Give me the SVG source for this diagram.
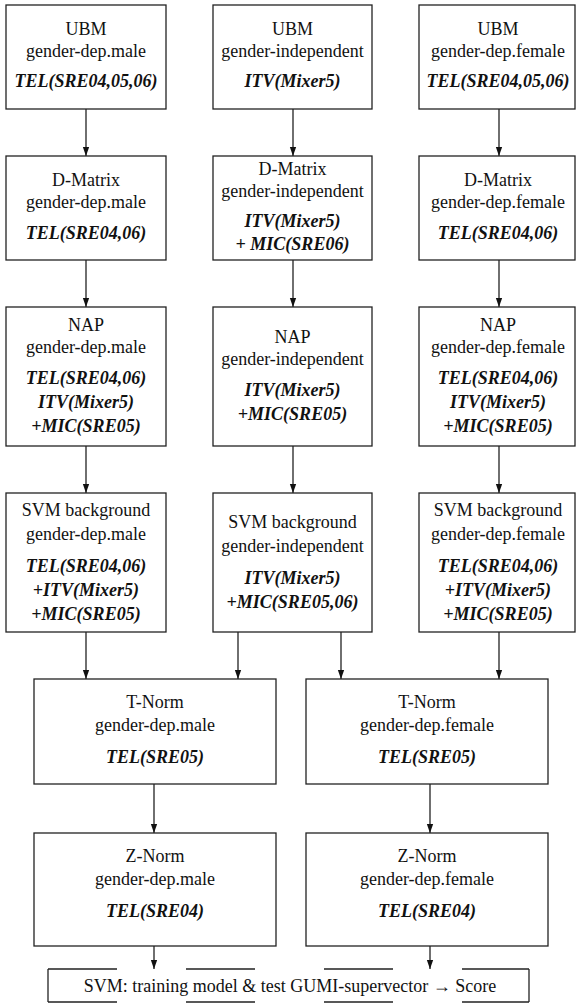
<svg xmlns="http://www.w3.org/2000/svg" width="576" height="1003" viewBox="0 0 576 1003" font-family="'Liberation Serif', 'Times New Roman', serif">
<style>
.box{fill:#fff;stroke:#222;stroke-width:1.3}
text{font-family:"Liberation Serif","Times New Roman",serif;font-size:18px;fill:#111;text-anchor:middle}
.b{font-weight:bold;font-style:italic}
.c{stroke:#222;stroke-width:1.3;fill:none;marker-end:url(#ah)}
</style>
<defs>
<marker id="ah" viewBox="0 0 10 10" refX="10" refY="5" markerWidth="9" markerHeight="9" markerUnits="userSpaceOnUse" orient="auto">
<path d="M0,1.5 L10,5 L0,8.5 z" fill="#111"/>
</marker>
</defs>
<rect width="576" height="1003" fill="#fff"/>
<g id="connectors">
<line class="c" x1="86" y1="109" x2="86" y2="156"/>
<line class="c" x1="293" y1="109" x2="293" y2="156"/>
<line class="c" x1="499" y1="109" x2="499" y2="156"/>
<line class="c" x1="86" y1="260" x2="86" y2="307"/>
<line class="c" x1="293" y1="260" x2="293" y2="307"/>
<line class="c" x1="499" y1="260" x2="499" y2="307"/>
<line class="c" x1="86" y1="446" x2="86" y2="493"/>
<line class="c" x1="293" y1="446" x2="293" y2="493"/>
<line class="c" x1="499" y1="446" x2="499" y2="493"/>
<line class="c" x1="86" y1="632" x2="86" y2="679"/>
<line class="c" x1="238" y1="632" x2="238" y2="679"/>
<line class="c" x1="341" y1="632" x2="341" y2="679"/>
<line class="c" x1="499" y1="632" x2="499" y2="679"/>
<line class="c" x1="154" y1="784" x2="154" y2="833"/>
<line class="c" x1="430" y1="784" x2="430" y2="833"/>
<line class="c" x1="154" y1="946" x2="154" y2="969"/>
<line class="c" x1="430" y1="946" x2="430" y2="969"/>
</g>
<g id="ubm-male"><rect class="box" x="6" y="5" width="160" height="104"/><text x="86" y="35">UBM</text><text x="86" y="57">gender-dep.male</text><text class="b" x="86" y="87">TEL(SRE04,05,06)</text></g>
<g id="ubm-indep"><rect class="box" x="213" y="5" width="159" height="104"/><text x="292.5" y="35">UBM</text><text x="292.5" y="57">gender-independent</text><text class="b" x="292.5" y="87">ITV(Mixer5)</text></g>
<g id="ubm-female"><rect class="box" x="419" y="5" width="156" height="104"/><text x="498" y="35">UBM</text><text x="498" y="57">gender-dep.female</text><text class="b" x="498" y="87">TEL(SRE04,05,06)</text></g>
<g id="dm-male"><rect class="box" x="6" y="156" width="160" height="104"/><text x="86" y="186">D-Matrix</text><text x="86" y="208">gender-dep.male</text><text class="b" x="86" y="239">TEL(SRE04,06)</text></g>
<g id="dm-indep"><rect class="box" x="213" y="156" width="159" height="104"/><text x="292.5" y="175">D-Matrix</text><text x="292.5" y="197">gender-independent</text><text class="b" x="292.5" y="227">ITV(Mixer5)</text><text class="b" x="292.5" y="250">+ MIC(SRE06)</text></g>
<g id="dm-female"><rect class="box" x="419" y="156" width="156" height="104"/><text x="498" y="186">D-Matrix</text><text x="498" y="208">gender-dep.female</text><text class="b" x="498" y="239">TEL(SRE04,06)</text></g>
<g id="nap-male"><rect class="box" x="6" y="307" width="160" height="139"/><text x="86" y="331">NAP</text><text x="86" y="353">gender-dep.male</text><text class="b" x="86" y="384">TEL(SRE04,06)</text><text class="b" x="86" y="408">ITV(Mixer5)</text><text class="b" x="86" y="432">+MIC(SRE05)</text></g>
<g id="nap-indep"><rect class="box" x="213" y="307" width="159" height="139"/><text x="292.5" y="343">NAP</text><text x="292.5" y="365">gender-independent</text><text class="b" x="292.5" y="396">ITV(Mixer5)</text><text class="b" x="292.5" y="420">+MIC(SRE05)</text></g>
<g id="nap-female"><rect class="box" x="419" y="307" width="156" height="139"/><text x="498" y="331">NAP</text><text x="498" y="353">gender-dep.female</text><text class="b" x="498" y="384">TEL(SRE04,06)</text><text class="b" x="498" y="408">ITV(Mixer5)</text><text class="b" x="498" y="432">+MIC(SRE05)</text></g>
<g id="svm-male"><rect class="box" x="6" y="493" width="160" height="139"/><text x="86" y="516">SVM background</text><text x="86" y="540">gender-dep.male</text><text class="b" x="86" y="572">TEL(SRE04,06)</text><text class="b" x="86" y="596">+ITV(Mixer5)</text><text class="b" x="86" y="620">+MIC(SRE05)</text></g>
<g id="svm-indep"><rect class="box" x="213" y="493" width="159" height="139"/><text x="292.5" y="528">SVM background</text><text x="292.5" y="552">gender-independent</text><text class="b" x="292.5" y="584">ITV(Mixer5)</text><text class="b" x="292.5" y="608">+MIC(SRE05,06)</text></g>
<g id="svm-female"><rect class="box" x="419" y="493" width="156" height="139"/><text x="498" y="516">SVM background</text><text x="498" y="540">gender-dep.female</text><text class="b" x="498" y="572">TEL(SRE04,06)</text><text class="b" x="498" y="596">+ITV(Mixer5)</text><text class="b" x="498" y="620">+MIC(SRE05)</text></g>
<g id="tnorm-male"><rect class="box" x="34" y="679" width="242" height="105"/><text x="155" y="708">T-Norm</text><text x="155" y="731">gender-dep.male</text><text class="b" x="155" y="763">TEL(SRE05)</text></g>
<g id="tnorm-female"><rect class="box" x="306" y="679" width="242" height="105"/><text x="427" y="708">T-Norm</text><text x="427" y="731">gender-dep.female</text><text class="b" x="427" y="763">TEL(SRE05)</text></g>
<g id="znorm-male"><rect class="box" x="34" y="833" width="242" height="113"/><text x="155" y="862">Z-Norm</text><text x="155" y="885">gender-dep.male</text><text class="b" x="155" y="917">TEL(SRE04)</text></g>
<g id="znorm-female"><rect class="box" x="306" y="833" width="242" height="113"/><text x="427" y="862">Z-Norm</text><text x="427" y="885">gender-dep.female</text><text class="b" x="427" y="917">TEL(SRE04)</text></g>
<g id="svm-score"><rect x="48" y="969" width="481" height="33" fill="#fff"/><line x1="48" y1="969" x2="48" y2="1002" stroke="#222" stroke-width="1.3"/><line x1="529" y1="969" x2="529" y2="1002" stroke="#222" stroke-width="1.3"/><line x1="48" y1="969" x2="529" y2="969" stroke="#222" stroke-width="1.3" stroke-dasharray="69 69"/><line x1="48" y1="1002" x2="529" y2="1002" stroke="#222" stroke-width="1.3" stroke-dasharray="69 69"/><text x="290" y="992">SVM: training model &amp; test GUMI-supervector → Score</text></g>
</svg>
